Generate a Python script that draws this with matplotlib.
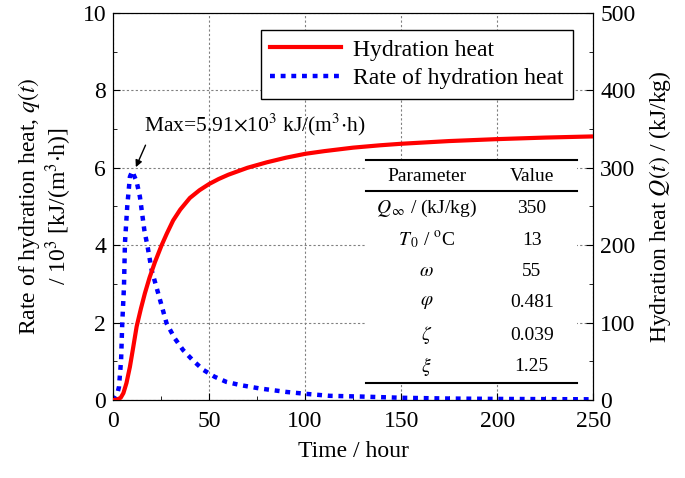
import matplotlib
matplotlib.use("Agg")
import matplotlib.pyplot as plt
from matplotlib.ticker import MultipleLocator
from matplotlib.patches import Rectangle

plt.rcParams['font.family'] = ['Liberation Serif', 'DejaVu Serif']
plt.rcParams['mathtext.fontset'] = 'stix'
plt.rcParams['font.size'] = 17

# hydration heat Q(t), kJ/kg (right axis)
t_Q = [0, 2, 4, 5.4, 7, 8.8, 10.5, 12.3, 14.5, 16.6, 19, 21.8, 25.3, 28, 31.3,
       35, 40, 45, 50, 55, 60, 70, 80, 90, 100, 110, 125, 138.8, 150, 175,
       200, 225, 250]
Q = [0, 0.5, 3, 9, 22, 43, 68, 95, 118, 138, 158, 178, 200, 215, 232,
     246, 261, 271, 279, 285.5, 291, 300, 307, 313, 318, 321.5, 326, 329, 331,
     334.5, 337, 339, 340.5]

# rate of hydration heat q(t), 10^3 kJ/(m3 h) (left axis)
t_q = [0, 1, 2, 3.1, 4.2, 4.8, 5.7, 6.2, 7.4, 8.8, 10, 12.3, 14, 16.3, 18, 20.1,
       23.5, 27.9, 32.2, 36.5, 41.5, 47, 53, 59, 66, 76.4, 90.3, 100.7, 112.8,
       130, 150, 175, 200, 225, 250]
q = [0, 0.04, 0.12, 0.34, 1.03, 1.98, 2.93, 4.05, 5.0, 5.77, 5.91, 5.64, 5.25,
     4.39, 3.96, 3.36, 2.76, 1.98, 1.59, 1.29, 1.03, 0.78, 0.60, 0.47, 0.39,
     0.30, 0.21, 0.16, 0.11, 0.09, 0.06, 0.04, 0.03, 0.025, 0.02]

params = [r'Parameter', r'$Q_{\,\infty}$ / (kJ/kg)', r'$T_{\,0}$ / $^{\rm o}$C',
          r'$\omega$', r'$\varphi$', r'$\zeta$', r'$\xi$']
values = ['Value', '350', '13', '55', '0.481', '0.039', '1.25']

fig = plt.figure(figsize=(6.85, 4.78), dpi=100)
ax = fig.add_axes([0.165, 0.163, 0.701, 0.81])
ax2 = ax.twinx()

ax.set_xlim(0, 250)
ax.set_ylim(0, 10)
ax2.set_ylim(0, 500)

ax.xaxis.set_major_locator(MultipleLocator(50))
ax.xaxis.set_minor_locator(MultipleLocator(25))
ax.yaxis.set_major_locator(MultipleLocator(2))
ax.yaxis.set_minor_locator(MultipleLocator(1))
ax2.yaxis.set_major_locator(MultipleLocator(100))
ax2.yaxis.set_minor_locator(MultipleLocator(50))

ax.tick_params(which='both', direction='in', right=False, top=False)
ax.tick_params(which='major', length=5)
ax.tick_params(which='minor', length=3)
ax.tick_params(axis='x', pad=8)
ax.tick_params(axis='y', pad=5)
ax2.tick_params(which='both', direction='in')
ax2.tick_params(which='major', length=5, pad=5)
ax2.tick_params(which='minor', length=3)

ax.grid(True, which='major', color='gray', linestyle=(0, (2, 2)), linewidth=0.8)
ax.set_axisbelow(True)

l1, = ax2.plot(t_Q, Q, color='red', lw=3, label='Hydration heat', zorder=3)
l2, = ax.plot(t_q, q, color='blue', lw=3.2, linestyle=(0, (1.1, 1.3)),
              label='Rate of hydration heat', zorder=3)

ax.set_xlabel('Time / hour', labelpad=6)
ax.set_ylabel('Rate of hydration heat, $q(t)$\n/ 10$^3$ [kJ/(m$^3$$\\cdot$h)]',
              linespacing=1.05, labelpad=6)
ax2.set_ylabel('Hydration heat $Q(t)$ / (kJ/kg)', labelpad=8)

ax2.legend(handles=[l1, l2], loc='upper right', bbox_to_anchor=(0.957, 0.957),
           borderaxespad=0, fancybox=False, edgecolor='black', framealpha=1,
           handlelength=3.0, borderpad=0.4, labelspacing=0.3, handletextpad=0.5,
           fontsize=17)

ax2.annotate('', xy=(11.3, 5.95), xytext=(17.5, 6.65), xycoords=ax.transData,
             textcoords=ax.transData,
             arrowprops=dict(arrowstyle='-|>', lw=1, color='black',
                             mutation_scale=10))
ax2.text(16, 7.1, 'Max=5.91$\\times$10$^3$ kJ/(m$^3$$\\cdot$h)',
         transform=ax.transData, ha='left', va='center', fontsize=15.5)

# parameter table
x0, x1 = 0.527, 0.967
ax2.add_patch(Rectangle((x0, 0.044), x1 - x0, 0.62 - 0.044, transform=ax.transAxes,
                        facecolor='white', edgecolor='none', zorder=4))
for yy in [0.62, 0.54, 0.044]:
    ax2.plot([x0, x1], [yy, yy], transform=ax.transAxes, color='black', lw=1.5,
             zorder=5)
row_y = [0.577, 0.496, 0.413, 0.332, 0.251, 0.168, 0.086]
for yy, p, v in zip(row_y, params, values):
    ax2.text(0.653, yy, p, transform=ax.transAxes, ha='center', va='center',
             fontsize=14, zorder=6)
    ax2.text(0.872, yy, v, transform=ax.transAxes, ha='center', va='center',
             fontsize=14, zorder=6)

fig.savefig('out.png', dpi=100)
